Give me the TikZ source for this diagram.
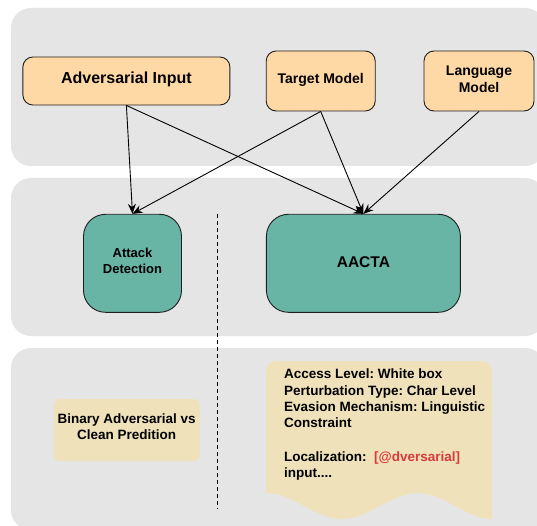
\documentclass[tikz,border=0pt]{standalone}
\usepackage{fontspec}
\setmainfont{Liberation Sans}
\usetikzlibrary{arrows.meta}
\frenchspacing
\definecolor{panelgray}{HTML}{E5E5E5}
\definecolor{orangefill}{HTML}{FFD9A5}
\definecolor{greenfill}{HTML}{68B5A6}
\definecolor{yellowfill}{HTML}{EFE2BB}
\definecolor{redtext}{HTML}{D73B3E}
\definecolor{edge}{HTML}{1E1E1E}
\newcommand\boxtext[2]{\raisebox{#1}[0pt][0pt]{\begin{tabular}{@{}c@{}}#2\end{tabular}}}
\begin{document}
\begin{tikzpicture}[x=1pt,y=-1pt,
  panel/.style={fill=panelgray, rounded corners=20pt},
  box/.style={draw=edge, line width=0.9pt, inner sep=0pt, font=\bfseries},
  orangebox/.style={box, fill=orangefill, rounded corners=10pt},
  greenbox/.style={box, fill=greenfill, rounded corners=22pt},
  arr/.style={-{Stealth[length=10pt,width=8pt]}, line width=0.9pt, draw=black},
  divider/.style={draw=black, line width=0.8pt, dash pattern=on 4pt off 3pt}
]
\useasboundingbox (0,0) rectangle (537,526);
\fill[white] (0,0) rectangle (537,526);
% panels
\path[panel] (11,8) rectangle (545,166);
\path[panel] (11,178) rectangle (545,336);
\path[panel] (11,348) rectangle (545,530);

% top row
\node[orangebox, minimum width=207pt, minimum height=48pt,
      font=\bfseries\fontsize{16}{19}\selectfont] (ai) at (126.4,81)
      {\boxtext{-3.2pt}{Adversarial Input}};
\node[orangebox, minimum width=109pt, minimum height=60pt,
      font=\bfseries\fontsize{14}{17}\selectfont] (tm) at (320.7,81)
      {\boxtext{-3.1pt}{Target Model}};
\node[orangebox, minimum width=110pt, minimum height=60pt,
      font=\bfseries\fontsize{14}{17}\selectfont] (lm) at (479,81)
      {\boxtext{-3.6pt}{Language\\Model}};

% middle row
\node[greenbox, minimum width=98pt, minimum height=98pt,
      font=\bfseries\fontsize{13}{16.3}\selectfont] (ad) at (132.5,263.3)
      {\boxtext{-2.1pt}{Attack\\Detection}};
\node[greenbox, minimum width=194pt, minimum height=98pt,
      font=\bfseries\fontsize{15.5}{18}\selectfont] (aacta) at (363.4,263.3)
      {\boxtext{-3.8pt}{AACTA}};

% bottom row
\node[fill=yellowfill, rounded corners=6pt, minimum width=146pt, minimum height=62pt,
      inner sep=0pt, font=\bfseries\fontsize{13.5}{16.5}\selectfont] (bin) at (126.7,430)
      {\boxtext{-1.9pt}{Binary Adversarial vs\\Clean Predition}};

\fill[yellowfill] (266,493) -- (266,371) arc[start angle=180,end angle=90,radius=10pt]
  -- (482,361) arc[start angle=90,end angle=0,radius=10pt] -- (492,519)
  .. controls (465,519) and (445,493) .. (418,493)
  .. controls (390.6,493) and (369.4,519) .. (342,519)
  .. controls (314.6,519) and (293.4,493) .. (266,493) -- cycle;
\node[anchor=north west, align=left, inner sep=0pt,
      font=\bfseries\fontsize{13.5}{16.2}\selectfont] (doc) at (284,369)
  {Access Level: White box\\Perturbation Type: Char Level\\Evasion Mechanism: Linguistic\\Constraint\\[17.5pt]Localization:\ \ \textcolor{redtext}{[@dversarial]}\\input....};

% divider
\coordinate (d1) at (217.6,214);
\coordinate (d2) at (217.6,509);
\draw[divider] (d1) -- (d2);

% arrows
\draw[arr] (ai.south) -- (ad.north);
\draw[arr] (ai.south) -- (aacta.north);
\draw[arr] (tm.south) -- (ad.north);
\draw[arr] (tm.south) -- (aacta.north);
\draw[arr] (lm.south) -- (aacta.north);
\end{tikzpicture}
\end{document}
